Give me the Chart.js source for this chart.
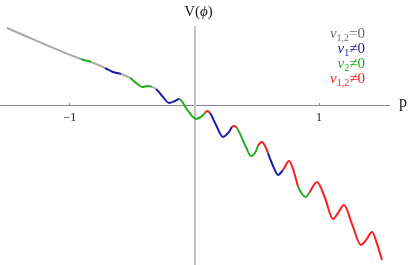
<!DOCTYPE html>
<html>
<head>
<meta charset="utf-8">
<script src="https://cdn.jsdelivr.net/npm/chart.js@4/dist/chart.umd.min.js"></script>
<style>
  html, body { margin: 0; padding: 0; background: #fff; }
  canvas { display: block; }
</style>
</head>
<body>
<canvas id="pot" width="409" height="265"></canvas>
<script>
// valores: p (eixo horizontal) e V(phi)
const pValues = [
  -1.506, -0.912, -0.831, -0.719, -0.655, -0.622, -0.590, -0.518, -0.470, -0.422,
  -0.373, -0.341, -0.309, -0.253, -0.205, -0.157, -0.124, -0.052, 0.012, 0.052,
  0.084, 0.100, 0.124, 0.173, 0.229, 0.277, 0.301, 0.317, 0.341, 0.406,
  0.454, 0.494, 0.510, 0.542, 0.574, 0.590, 0.631, 0.671, 0.711, 0.759,
  0.799, 0.831, 0.896, 0.920, 0.984, 1.048, 1.112, 1.153, 1.201, 1.265,
  1.337, 1.378, 1.426, 1.466, 1.506
];
const vValues = [
  0.622, 0.373, 0.349, 0.301, 0.269, 0.261, 0.253, 0.221, 0.181, 0.149,
  0.157, 0.149, 0.133, 0.068, 0.020, 0.036, 0.052, -0.044, -0.108, -0.092,
  -0.060, -0.044, -0.060, -0.157, -0.253, -0.213, -0.173, -0.165, -0.181, -0.317,
  -0.406, -0.365, -0.325, -0.293, -0.341, -0.382, -0.486, -0.558, -0.518, -0.446,
  -0.534, -0.647, -0.735, -0.703, -0.614, -0.743, -0.912, -0.863, -0.799, -0.952,
  -1.120, -1.080, -1.016, -1.112, -1.241
];
// ramo de cada trecho (do ponto i ao i+1)
const segBranch = [
  'zero', 'v2', 'zero', 'v1', 'v1', 'v1', 'zero', 'v2', 'v2', 'v2',
  'v2', 'zero', 'v1', 'v1', 'v1', 'v1', 'v2', 'v2', 'v2', 'v2',
  'v12', 'v12', 'v1', 'v1', 'v1', 'v1', 'v12', 'v12', 'v2', 'v2',
  'v2', 'v2', 'v12', 'v12', 'v12', 'v1', 'v1', 'v1', 'v12', 'v12',
  'v12', 'v2', 'v2', 'v12', 'v12', 'v12', 'v12', 'v12', 'v12', 'v12',
  'v12', 'v12', 'v12', 'v12'
];
const xTicks = [-1, 1];
const xTickLabels = ['\u22121', '1'];

// legenda
const legendSubs = ['1,2', '1', '2', '1,2'];
const legendRels = ['=0', '\u22600', '\u22600', '\u22600'];
const legendBranch = ['zero', 'v1', 'v2', 'v12'];

const branchColors = {
  zero: '#a8a8a8',
  v1: '#1c1ca6',
  v2: '#22ad22',
  v12: '#ff1c1c'
};
const legendTextColors = {
  zero: '#6e6e6e',
  v1: '#1c1ca6',
  v2: '#22ad22',
  v12: '#ff1c1c'
};

const SERIF = '"Liberation Serif", "DejaVu Serif", serif';

// textos extras: rótulos dos eixos e legenda
const extrasPlugin = {
    id: 'extras',
    afterDraw(chart) {
        const ctx = chart.ctx;
        ctx.save();
        ctx.textBaseline = 'alphabetic';
        ctx.fillStyle = '#1a1a1a';

        // V(phi)
        const parts = [['V(', '15px ' + SERIF], ['\u03d5', 'italic 15px ' + SERIF], [')', '15px ' + SERIF]];
        let w = 0;
        parts.forEach(p => { ctx.font = p[1]; w += ctx.measureText(p[0]).width; });
        let x = chart.scales.x.getPixelForValue(0) + 4 - w / 2;
        parts.forEach(p => {
            ctx.font = p[1];
            ctx.fillText(p[0], x, 16);
            x += ctx.measureText(p[0]).width;
        });

        // p
        ctx.font = '16px ' + SERIF;
        ctx.fillText('p', 399, 107);

        // legenda
        const right = 365;
        legendSubs.forEach((sub, i) => {
            const base = 38 + i * 15;
            const pieces = [
                ['v', 'italic 15px ' + SERIF, 0],
                [sub, '10px ' + SERIF, 3],
                [legendRels[i], '15px ' + SERIF, 0]
            ];
            let tw = 0;
            pieces.forEach(p => { ctx.font = p[1]; tw += ctx.measureText(p[0]).width; });
            let px = right - tw;
            ctx.fillStyle = legendTextColors[legendBranch[i]];
            pieces.forEach(p => {
                ctx.font = p[1];
                ctx.fillText(p[0], px, base + p[2]);
                px += ctx.measureText(p[0]).width;
            });
        });
        ctx.restore();
    }
};

const points = pValues.map((p, i) => ({ x: p, y: vValues[i] }));

new Chart(document.getElementById('pot'), {
    type: 'line',
    data: {
        datasets: [{
            data: points,
            borderWidth: 2,
            pointRadius: 0,
            cubicInterpolationMode: 'monotone',
            borderColor: branchColors.v12,
            segment: {
                borderColor: c => branchColors[segBranch[c.p0DataIndex]]
            }
        }]
    },
    options: {
        responsive: false,
        animation: false,
        events: [],
        layout: {
            padding: { left: 0, right: 20, top: 27, bottom: 0 }
        },
        plugins: {
            legend: { display: false },
            tooltip: { enabled: false }
        },
        scales: {
            x: {
                type: 'linear',
                min: -1.562,
                max: 1.562,
                position: { y: 0 },
                afterFit: s => { s.height = 0; },
                afterBuildTicks: s => { s.ticks = xTicks.map(v => ({ value: v })); },
                grid: {
                    drawOnChartArea: false,
                    drawTicks: true,
                    tickLength: -3,
                    color: '#888'
                },
                border: { color: '#8c8c8c', width: 1 },
                ticks: {
                    padding: 8,
                    maxRotation: 0,
                    color: '#222',
                    font: { family: SERIF, size: 12 },
                    callback: v => {
                        const k = xTicks.indexOf(v);
                        return k >= 0 ? xTickLabels[k] : '';
                    }
                }
            },
            y: {
                type: 'linear',
                min: -1.281,
                max: 0.63,
                position: { x: 0 },
                afterFit: s => { s.width = 0; },
                grid: { drawOnChartArea: false, drawTicks: false },
                border: { color: '#c4c4c4', width: 2 },
                ticks: { display: false }
            }
        }
    },
    plugins: [extrasPlugin]
});
</script>
</body>
</html>
